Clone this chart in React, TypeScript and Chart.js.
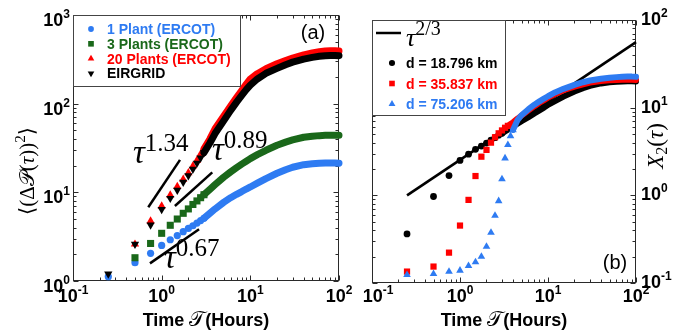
import React, { useEffect, useRef } from 'react';
import { Chart, registerables } from 'chart.js';
import { drawPoint } from 'chart.js/helpers';

Chart.register(...registerables);

// ===== Panel (a) data =====
const tauA = [0.25, 0.5, 0.75, 1, 1.25, 1.5, 1.75, 2, 2.25, 2.5, 2.75, 3, 3.5, 4, 5, 6, 7, 8, 9, 10, 12, 15, 20, 25, 30, 40, 50, 60, 70, 80, 90, 100];
const plant1 = [1.12, 1.61, 2.05, 2.52, 2.92, 3.25, 3.6, 3.92, 4.2, 4.5, 4.8, 5.1, 5.8, 6.5, 7.7, 8.7, 9.5, 10.2, 10.9, 11.5, 12.7, 14.3, 16.4, 18.0, 19.2, 20.5, 21.0, 21.3, 21.4, 21.4, 21.4, 21.3];
const plants3 = [null, 1.83, 2.65, 3.45, 4.25, 5.0, 5.8, 6.5, 7.3, 8.0, 8.7, 9.4, 10.8, 12.2, 14.8, 17.0, 19.0, 20.8, 22.4, 24.0, 26.6, 29.8, 34.0, 36.8, 39.0, 41.8, 43.0, 43.6, 43.9, 44.0, 44.0, 44.0];
const plants20 = [null, 2.6, 4.75, 7.0, 9.3, 11.6, 14.0, 16.6, 19.8, 23.0, 27.0, 31.0, 40, 52, 72, 94, 117, 141, 166, 190, 218, 248, 282, 307, 327, 355, 373, 385, 392, 396, 395, 392];
const eirgrid = [1.2, 2.6, 4.28, 6.43, 8.56, 10.6, 13.0, 15.4, 18.2, 21.3, 24.5, 28.0, 36, 46, 64, 84, 104, 124, 144, 162, 190, 220, 250, 275, 294, 318, 333, 342, 347, 349, 350, 348];
const slope134Tau = [0.706, 1.61];
const slope134Val = [6.78, 23.2];
const slope089Tau = [1.41, 3.72];
const slope089Val = [7.01, 16.8];
const slope067Tau = [0.738, 2.64];
const slope067Val = [1.58, 3.83];
const xExpA = [-1, 0, 1, 2];
const yExpA = [0, 1, 2, 3];
const legendA = ['1 Plant (ERCOT)', '3 Plants (ERCOT)', '20 Plants (ERCOT)', 'EIRGRID'];
const slopeLabelsA = ['1.34', '0.89', '0.67'];

// ===== Panel (b) data =====
const tauB = [0.25, 0.5, 0.75, 1, 1.25, 1.5, 1.75, 2, 2.25, 2.5, 2.75, 3, 3.25, 3.5, 3.75, 4, 4.5, 5, 6, 7, 8, 9, 10, 12, 15, 20, 25, 30, 40, 50, 60, 70, 80, 90, 100];
const d18796 = [0.363, 0.97, 1.68, 2.5, 2.95, 3.35, 3.65, 3.95, 4.25, 4.55, 4.85, 5.1, 5.35, 5.6, 5.85, 6.1, 6.55, 7.0, 7.8, 8.6, 9.3, 10.0, 10.8, 11.9, 13.4, 15.3, 16.7, 17.7, 18.9, 19.5, 19.8, 19.9, 20.0, 20.0, 19.9];
const d35837 = [0.135, 0.154, 0.222, 0.452, 0.887, 1.66, 2.76, 3.3, 3.99, 4.6, 5.1, 5.5, 5.9, 6.2, 6.5, 6.8, 7.5, 8.1, 9.3, 10.4, 11.4, 12.2, 13.0, 14.3, 15.8, 17.4, 18.5, 19.3, 20.1, 20.5, 20.7, 20.8, 20.8, 20.8, 20.7];
const d75206 = [0.124, 0.127, 0.135, 0.139, 0.157, 0.173, 0.2, 0.26, 0.376, 0.587, 0.863, 1.53, 2.65, 3.76, 4.76, 5.57, 7.2, 8.2, 9.6, 10.8, 11.8, 12.7, 13.5, 14.9, 16.4, 18.2, 19.5, 20.4, 21.4, 22.0, 22.3, 22.5, 22.6, 22.6, 22.5];
const powTau = [0.25, 100];
const powVal = [1.0, 56];
const xExpB = [-1, 0, 1, 2];
const yExpB = [-1, 0, 1, 2];
const legendB = ['d = 18.796 km', 'd = 35.837 km', 'd = 75.206 km'];
const powLabel = '2/3';

// ===== styles =====
const BLUE = '#2e7bf2';
const GREEN = '#1a681a';
const RED = '#ff0000';
const BLACK = '#000000';
const FRAME = '#2a2a2a';
const SANS = '"Liberation Sans", Arial, Helvetica, sans-serif';
const SERIF = '"Liberation Serif", "DejaVu Serif", serif';
const MATH = '"DejaVu Serif", "DejaVu Sans", serif';

// annotation anchors in data coordinates (left edge, baseline)
const slopeLabelAnchors = [
  [0.475, 21.4],
  [3.69, 23.2],
  [1.06, 1.4],
];

type Run = [string, string, number?];

const pts = (xs: number[], ys: (number | null)[]) => xs.map((x, i) => ({ x, y: ys[i] }));

function drawRuns(ctx: CanvasRenderingContext2D, runs: Run[], x: number, y: number, align: string) {
  ctx.textAlign = 'left';
  ctx.textBaseline = 'alphabetic';
  const widths = runs.map(([t, f]) => {
    ctx.font = f;
    return ctx.measureText(t).width;
  });
  const w = widths.reduce((s, v) => s + v, 0);
  let cx = align === 'center' ? x - w / 2 : align === 'right' ? x - w : x;
  runs.forEach(([t, f, dy], i) => {
    ctx.font = f;
    ctx.fillText(t, cx, y + (dy || 0));
    cx += widths[i];
  });
  return w;
}

const pow10 = (e: number): Run[] => [
  ['10', `bold 18px ${SANS}`],
  [String(e), `bold 12px ${SANS}`, -8],
];

function logTickValues(min: number, max: number) {
  const out: [number, boolean][] = [];
  const e0 = Math.floor(Math.log10(min) + 1e-9);
  const e1 = Math.ceil(Math.log10(max) - 1e-9);
  for (let e = e0; e <= e1; e++) {
    for (let m = 1; m <= 9; m++) {
      const v = m * Math.pow(10, e);
      if (v >= min * 0.9999 && v <= max * 1.0001) out.push([v, m === 1]);
    }
  }
  return out;
}

function drawFrameAndTicks(chart: any) {
  const { ctx, chartArea: a, scales } = chart;
  const xs = scales.x;
  const ys = scales.y;
  ctx.save();
  ctx.strokeStyle = FRAME;
  ctx.lineWidth = 1;
  const L = Math.round(a.left) + 0.5;
  const R = Math.round(a.right) - 0.5;
  const T = Math.round(a.top) + 0.5;
  const B = Math.round(a.bottom) - 0.5;
  ctx.beginPath();
  logTickValues(xs.min, xs.max).forEach(([v, major]) => {
    const p = Math.round(xs.getPixelForValue(v)) + 0.5;
    const len = major ? 5 : 3;
    ctx.moveTo(p, B);
    ctx.lineTo(p, B - len);
    ctx.moveTo(p, T);
    ctx.lineTo(p, T + len);
  });
  logTickValues(ys.min, ys.max).forEach(([v, major]) => {
    const p = Math.round(ys.getPixelForValue(v)) + 0.5;
    const len = major ? 5 : 3;
    ctx.moveTo(L, p);
    ctx.lineTo(L + len, p);
    ctx.moveTo(R, p);
    ctx.lineTo(R - len, p);
  });
  ctx.stroke();
  ctx.strokeRect(L, T, R - L, B - T);
  ctx.restore();
}

interface SeriesSpec {
  label: string;
  vals: (number | null)[];
  color: string;
  style: string;
  r: number;
  rot: number;
  cut: number;
  order: number;
}

const seriesA: SeriesSpec[] = [
  { label: legendA[0], vals: plant1, color: BLUE, style: 'circle', r: 3.6, rot: 0, cut: 3, order: 4 },
  { label: legendA[1], vals: plants3, color: GREEN, style: 'rect', r: 5, rot: 0, cut: 3, order: 3 },
  { label: legendA[2], vals: plants20, color: RED, style: 'triangle', r: 4.8, rot: 0, cut: 3, order: 2 },
  { label: legendA[3], vals: eirgrid, color: BLACK, style: 'triangle', r: 4.8, rot: 180, cut: 3, order: 1 },
];

const seriesB: SeriesSpec[] = [
  { label: legendB[0], vals: d18796, color: BLACK, style: 'circle', r: 3.4, rot: 0, cut: 3, order: 3 },
  { label: legendB[1], vals: d35837, color: RED, style: 'rect', r: 4.4, rot: 0, cut: 3.5, order: 2 },
  { label: legendB[2], vals: d75206, color: BLUE, style: 'triangle', r: 4.4, rot: 0, cut: 4, order: 1 },
];

function seriesDataset(s: SeriesSpec, tau: number[], band: number) {
  return {
    label: s.label,
    data: pts(tau, s.vals),
    showLine: true,
    borderColor: s.color,
    borderWidth: band,
    borderCapStyle: 'round',
    borderJoinStyle: 'round',
    segment: {
      borderColor: (c: any) => (c.p0.parsed.x >= s.cut - 1e-9 ? s.color : 'rgba(0,0,0,0)'),
    },
    backgroundColor: s.color,
    pointBackgroundColor: s.color,
    pointBorderWidth: 0,
    pointStyle: s.style,
    pointRotation: s.rot,
    pointRadius: (c: any) => (c.raw && c.raw.x <= s.cut + 1e-9 ? s.r : 0),
    pointHoverRadius: 0,
    clip: false,
    order: s.order,
  };
}

function refLine(tau: number[], val: number[], width: number, order: number) {
  return {
    data: pts(tau, val),
    showLine: true,
    borderColor: '#000',
    borderWidth: width,
    pointRadius: 0,
    pointHoverRadius: 0,
    clip: false,
    order,
  };
}

const decorA = {
  id: 'decorA',
  beforeDatasetsDraw(chart: any) {
    drawFrameAndTicks(chart);
  },
  afterDraw(chart: any) {
    const { ctx, chartArea: a, scales } = chart;
    const x = scales.x;
    const y = scales.y;
    ctx.save();
    ctx.fillStyle = '#000';
    xExpA.forEach((e) => drawRuns(ctx, pow10(e), x.getPixelForValue(Math.pow(10, e)), a.bottom + 21, 'center'));
    yExpA.forEach((e) => drawRuns(ctx, pow10(e), a.left - 3, y.getPixelForValue(Math.pow(10, e)) + 11, 'right'));
    drawRuns(
      ctx,
      [
        ['Time ', `bold 18px ${SANS}`],
        ['\u{1D4AF}', `21px ${MATH}`],
        ['(Hours)', `bold 18px ${SANS}`],
      ],
      (a.left + a.right) / 2,
      a.bottom + 45,
      'center'
    );
    ctx.save();
    ctx.translate(27, 171);
    ctx.rotate(-Math.PI / 2);
    drawRuns(
      ctx,
      [
        ['\u27E8(\u0394', `21px ${SERIF}`],
        ['\u{1D4AB}', `21px ${MATH}`],
        ['(', `21px ${SERIF}`],
        ['\u03C4', `italic 21px ${SERIF}`],
        ['))', `21px ${SERIF}`],
        ['2', `15px ${SERIF}`, -9],
        ['\u27E9', `21px ${SERIF}`],
      ],
      0,
      7,
      'center'
    );
    ctx.restore();
    slopeLabelsA.forEach((lab, i) => {
      const [tx, ty] = slopeLabelAnchors[i];
      drawRuns(
        ctx,
        [
          ['\u03C4', `italic 33px ${SERIF}`],
          [lab, `25px ${SERIF}`, -12],
        ],
        x.getPixelForValue(tx),
        y.getPixelForValue(ty),
        'left'
      );
    });
    ctx.fillStyle = '#000';
    ctx.font = `20px ${SANS}`;
    ctx.textAlign = 'center';
    ctx.fillText('(a)', a.right - 26, a.top + 24);
    // legend
    const lx = Math.round(a.left);
    const ly = Math.round(a.top);
    ctx.fillStyle = '#fff';
    ctx.fillRect(lx, ly, 167, 71);
    ctx.strokeStyle = '#444';
    ctx.lineWidth = 1;
    ctx.strokeRect(lx + 0.5, ly + 0.5, 167, 71);
    seriesA.forEach((s, i) => {
      const cy = ly + 14 + i * 14.8;
      ctx.fillStyle = s.color;
      drawPoint(ctx, { pointStyle: s.style, radius: s.r * 0.8, rotation: s.rot, borderWidth: 0 } as any, lx + 18, cy);
      ctx.fillStyle = s.color;
      drawRuns(ctx, [[s.label, `bold 14px ${SANS}`]], lx + 34, cy + 5, 'left');
    });
    ctx.restore();
  },
};

const decorB = {
  id: 'decorB',
  beforeDatasetsDraw(chart: any) {
    drawFrameAndTicks(chart);
  },
  afterDraw(chart: any) {
    const { ctx, chartArea: a, scales } = chart;
    const x = scales.x;
    const y = scales.y;
    ctx.save();
    ctx.fillStyle = '#000';
    xExpB.forEach((e) =>
      drawRuns(ctx, pow10(e), x.getPixelForValue(Math.pow(10, e)) + (e === -1 ? 6 : 0), a.bottom + 19, 'center')
    );
    yExpB.forEach((e) => drawRuns(ctx, pow10(e), a.right + 5, y.getPixelForValue(Math.pow(10, e)) + 5, 'left'));
    drawRuns(
      ctx,
      [
        ['Time ', `bold 18px ${SANS}`],
        ['\u{1D4AF}', `21px ${MATH}`],
        ['(Hours)', `bold 18px ${SANS}`],
      ],
      (a.left + a.right) / 2,
      a.bottom + 43,
      'center'
    );
    ctx.save();
    ctx.translate(313, 146);
    ctx.rotate(-Math.PI / 2);
    drawRuns(
      ctx,
      [
        ['X', `italic 23px ${SERIF}`],
        ['2', `16px ${SERIF}`, 4],
        ['(', `23px ${SERIF}`],
        ['\u03C4', `italic 23px ${SERIF}`],
        [')', `23px ${SERIF}`],
      ],
      0,
      7,
      'center'
    );
    ctx.restore();
    ctx.fillStyle = '#000';
    ctx.font = `20px ${SANS}`;
    ctx.textAlign = 'center';
    ctx.fillText('(b)', a.right - 21, a.bottom - 14);
    // legend
    const lx = Math.round(a.left);
    const ly = Math.round(a.top);
    ctx.fillStyle = '#fff';
    ctx.fillRect(lx, ly, 133, 95);
    ctx.strokeStyle = '#444';
    ctx.lineWidth = 1;
    ctx.strokeRect(lx + 0.5, ly + 0.5, 133, 95);
    ctx.strokeStyle = '#000';
    ctx.lineWidth = 2.5;
    ctx.beginPath();
    ctx.moveTo(lx + 4, ly + 13);
    ctx.lineTo(lx + 29, ly + 13);
    ctx.stroke();
    ctx.fillStyle = '#000';
    drawRuns(
      ctx,
      [
        ['\u03C4', `italic 26px ${SERIF}`],
        [powLabel, `20px ${SERIF}`, -11],
      ],
      lx + 34,
      ly + 26,
      'left'
    );
    seriesB.forEach((s, i) => {
      const cy = ly + 43 + i * 20.5;
      ctx.fillStyle = s.color;
      drawPoint(ctx, { pointStyle: s.style, radius: s.r * 0.9, rotation: s.rot, borderWidth: 0 } as any, lx + 20, cy);
      ctx.fillStyle = s.color;
      drawRuns(ctx, [[s.label, `bold 14px ${SANS}`]], lx + 34, cy + 5, 'left');
    });
    ctx.restore();
  },
};

const hiddenAxis = {
  grid: { display: false },
  border: { display: false },
  ticks: { display: false },
  title: { display: false },
};

function configA(): any {
  return {
    type: 'scatter',
    data: {
      datasets: [
        ...seriesA.map((s) => seriesDataset(s, tauA, 7)),
        refLine(slope134Tau, slope134Val, 2.5, 10),
        refLine(slope089Tau, slope089Val, 2.5, 10),
        refLine(slope067Tau, slope067Val, 2.5, 10),
      ],
    },
    options: {
      responsive: false,
      animation: false,
      devicePixelRatio: 1,
      layout: { padding: { left: 0, right: 21, top: 15, bottom: 0 } },
      plugins: { legend: { display: false }, tooltip: { enabled: false } },
      events: [],
      scales: {
        x: {
          type: 'logarithmic',
          min: 0.1,
          max: 100,
          ...hiddenAxis,
          afterFit: (s: any) => {
            s.height = 54;
          },
        },
        y: {
          type: 'logarithmic',
          position: 'left',
          min: 1,
          max: 1000,
          ...hiddenAxis,
          afterFit: (s: any) => {
            s.width = 73;
          },
        },
      },
    },
    plugins: [decorA],
  };
}

function configB(): any {
  return {
    type: 'scatter',
    data: {
      datasets: [refLine(powTau, powVal, 2.6, 5), ...seriesB.map((s) => seriesDataset(s, tauB, 6))],
    },
    options: {
      responsive: false,
      animation: false,
      devicePixelRatio: 1,
      layout: { padding: { left: 29, right: 0, top: 20, bottom: 0 } },
      plugins: { legend: { display: false }, tooltip: { enabled: false } },
      events: [],
      scales: {
        x: {
          type: 'logarithmic',
          min: 0.1,
          max: 100,
          ...hiddenAxis,
          afterFit: (s: any) => {
            s.height = 52;
          },
        },
        y: {
          type: 'logarithmic',
          position: 'right',
          min: 0.1,
          max: 100,
          ...hiddenAxis,
          afterFit: (s: any) => {
            s.width = 50;
          },
        },
      },
    },
    plugins: [decorB],
  };
}

export default function App() {
  const refA = useRef<HTMLCanvasElement>(null);
  const refB = useRef<HTMLCanvasElement>(null);
  useEffect(() => {
    const a = new Chart(refA.current as HTMLCanvasElement, configA());
    const b = new Chart(refB.current as HTMLCanvasElement, configB());
    return () => {
      a.destroy();
      b.destroy();
    };
  }, []);
  return (
    <div style={{ position: 'absolute', left: 0, top: 0, width: 686, height: 335, background: '#fff' }}>
      <canvas
        ref={refA}
        width={360}
        height={335}
        style={{ position: 'absolute', left: 0, top: 0, width: 360, height: 335 }}
      />
      <canvas
        ref={refB}
        width={343}
        height={335}
        style={{ position: 'absolute', left: 343, top: 0, width: 343, height: 335 }}
      />
    </div>
  );
}
